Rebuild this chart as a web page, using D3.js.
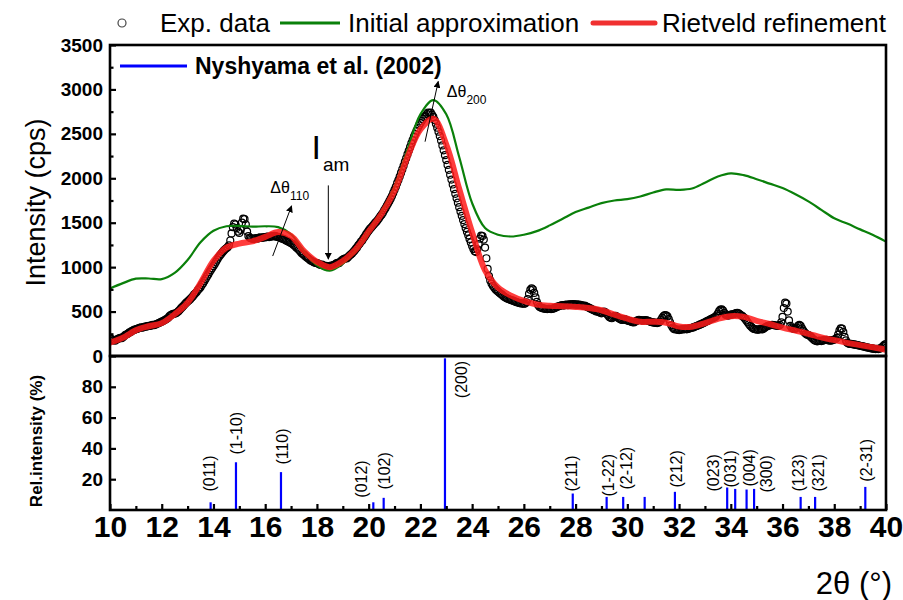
<!DOCTYPE html>
<html>
<head>
<meta charset="utf-8">
<script src="https://cdn.jsdelivr.net/npm/d3@7"></script>
<style>
  body { margin: 0; background: #fff; }
  svg { display: block; }
  text { font-family: "Liberation Sans", Arial, sans-serif; }
</style>
</head>
<body>
<svg id="chart" width="903" height="600"></svg>
<script>
// ---- measured pattern: intensity (cps) every 0.05° from 2θ = 10° ----
const expStart = 10;
const expStep = 0.05;
const expIntensity = [
  205,190,175,180,172,185,190,198,205,200,212,225,238,245,252,265,270,282,290,296,
  300,305,312,318,322,318,326,332,330,336,340,338,344,350,346,352,360,366,372,380,
  386,394,402,410,418,430,448,460,468,475,478,480,492,505,520,538,552,568,585,600,
  612,625,640,655,670,690,705,720,742,758,775,800,820,845,868,895,918,945,968,990,
  1012,1035,1060,1085,1110,1130,1150,1168,1185,1200,1212,1225,1245,1300,1380,1450,1490,1480,1440,1400,
  1385,1420,1500,1545,1540,1480,1400,1350,1330,1325,1320,1318,1322,1328,1320,1330,1335,1328,1332,1338,
  1335,1340,1345,1338,1342,1350,1345,1352,1348,1340,1342,1335,1328,1320,1318,1310,1300,1295,1285,1280,
  1268,1262,1250,1238,1222,1210,1195,1180,1162,1150,1138,1122,1110,1100,1088,1075,1068,1060,1052,1048,
  1045,1040,1030,1025,1028,1018,1012,1015,1008,1012,1010,1018,1015,1025,1030,1042,1048,1045,1060,1075,
  1085,1092,1100,1098,1112,1128,1140,1152,1170,1185,1205,1222,1245,1262,1285,1300,1325,1345,1368,1390,
  1410,1430,1445,1462,1480,1498,1512,1530,1550,1572,1590,1612,1640,1662,1690,1715,1742,1770,1800,1835,
  1870,1905,1945,1980,2020,2060,2100,2140,2185,2225,2268,2310,2350,2392,2430,2468,2500,2535,2565,2595,
  2620,2645,2668,2690,2700,2722,2740,2732,2738,2715,2690,2655,2615,2570,2525,2475,2425,2370,2315,2260,
  2205,2150,2095,2040,1985,1930,1878,1825,1775,1725,1675,1625,1578,1530,1485,1440,1398,1358,1318,1278,
  1238,1205,1180,1170,1200,1260,1320,1355,1350,1310,1220,1100,980,900,850,815,790,770,752,738,
  725,712,700,690,675,665,655,648,642,635,630,625,620,612,608,602,598,595,592,590,
  588,590,605,640,700,745,762,750,710,660,610,575,555,545,540,535,532,530,528,530,
  532,528,530,535,540,548,555,560,565,570,572,568,575,578,572,580,582,578,585,580,
  578,580,575,578,572,570,565,568,560,552,545,538,530,522,515,508,500,505,495,488,
  480,490,500,492,475,458,440,430,425,435,448,452,440,428,420,410,405,410,415,405,
  400,395,392,385,380,378,385,395,402,408,405,402,398,400,405,402,395,390,385,380,
  378,375,372,370,375,385,405,430,450,460,458,445,415,380,345,320,305,298,300,295,
  292,296,300,298,302,305,300,305,310,315,318,322,328,335,340,345,352,358,365,372,
  380,388,395,402,410,418,425,432,440,455,478,505,522,525,510,485,465,458,455,460,
  465,468,470,475,482,485,480,470,458,448,435,420,400,380,360,340,325,312,305,300,
  298,295,300,305,298,305,315,325,335,340,345,348,350,348,345,342,340,340,350,380,
  440,540,600,590,500,400,340,318,310,305,308,320,340,350,338,310,285,265,250,240,
  235,228,215,200,185,175,168,165,170,172,168,172,178,180,182,178,175,172,175,180,
  185,190,205,240,285,310,308,270,215,175,150,140,135,138,132,130,128,125,122,118,
  115,112,110,105,100,98,95,92,88,85,82,80,78,80,78,82,88,100,115,128,
  135
];

// ---- calculated profiles every 0.5° from 2θ = 10° ----
const calcStart = 10;
const calcStep = 0.5;
const initialApprox = [
  760, 820, 870, 872, 865, 935, 1080, 1280, 1410, 1460,
  1465, 1455, 1460, 1450, 1370, 1180, 1020, 960, 1040, 1190,
  1400, 1620, 1900, 2320, 2720, 2880, 2720, 2240, 1720, 1440,
  1365, 1345, 1365, 1405, 1470, 1545, 1620, 1670, 1720, 1750,
  1765, 1795, 1840, 1875, 1870, 1885, 1950, 2020, 2055, 2035,
  1990, 1940, 1890, 1820, 1740, 1645, 1550, 1490, 1425, 1362,
  1287
];
const rietveldFit = [
  150, 205, 290, 335, 370, 470, 600, 820, 1070, 1220,
  1265, 1290, 1340, 1395, 1350, 1180, 1060, 1000, 1070, 1200,
  1400, 1600, 1860, 2240, 2550, 2670, 2380, 1880, 1390, 965,
  770, 680, 620, 580, 565, 560, 552, 540, 515, 465,
  420, 386, 385, 375, 332, 330, 370, 418, 448, 440,
  395, 360, 320, 285, 250, 210, 178, 148, 122, 98,
  70
];

// ---- reference reflections (Nyshyama et al., 2002) ----
const refTheta = [13.89, 14.87, 16.61, 20.18, 20.58, 22.95, 27.89, 29.20, 29.84, 30.67,
                  31.84, 33.86, 34.17, 34.61, 34.90, 36.70, 37.26, 39.20];
const refRel = [5, 31, 24.6, 5, 7.9, 98.5, 10.7, 8.5, 8.5, 8.5,
                11.8, 14.6, 13.7, 13.3, 13.7, 8.5, 8.5, 15];

// Miller-index labels and where each one starts (2θ, rel. %)
const hklText = ["(011)", "(1-10)", "(110)", "(012)", "(102)", "(200)", "(211)", "(1-22)", "(2-12)",
                 "(212)", "(023)", "(031)", "(004)", "(300)", "(123)", "(321)", "(2-31)"];
const hklTheta = [13.84, 14.89, 16.65, 19.73, 20.63, 23.60, 27.85, 29.29, 29.95,
                  31.90, 33.32, 33.97, 34.74, 35.38, 36.60, 37.38, 39.25];
const hklRel = [12, 36, 29.5, 8, 13.3, 72.6, 12, 8.7, 13.3,
                14.6, 12, 14.6, 15.2, 11.3, 12, 12, 18.4];

// ---- axis ticks ----
const xMajor = d3.range(10, 41, 2);
const xMinor = d3.range(11, 40, 2);
const yTopMajor = [0, 500, 1000, 1500, 2000, 2500, 3000, 3500];
const yTopMinor = [250, 750, 1250, 1750, 2250, 2750, 3250];
const yBotMajor = [20, 40, 60, 80];

// ---- layout ----
const svg = d3.select("#chart");
const edgeL = 110, edgeR = 886, edgeT = 45, edgeM = 356, edgeB = 510;

const x = d3.scaleLinear().domain([10, 40]).range([edgeL, edgeR]);
const yTop = d3.scaleLinear().domain([0, 3500]).range([edgeM, edgeT]);
const yBot = d3.scaleLinear().domain([0, 100]).range([edgeB, edgeM]);

const expPoints = expIntensity.map((v, i) => [expStart + i * expStep, v]);
const initPoints = initialApprox.map((v, i) => [calcStart + i * calcStep, v]);
const fitPoints = rietveldFit.map((v, i) => [calcStart + i * calcStep, v]);

const defs = svg.append("defs");
defs.append("clipPath").attr("id", "topClip")
  .append("rect").attr("x", edgeL).attr("y", edgeT).attr("width", edgeR - edgeL).attr("height", edgeM - edgeT);
defs.append("marker")
  .attr("id", "arrow").attr("viewBox", "0 0 10 10")
  .attr("refX", 9).attr("refY", 5)
  .attr("markerWidth", 7).attr("markerHeight", 7)
  .attr("markerUnits", "userSpaceOnUse")
  .attr("orient", "auto")
  .append("path").attr("d", "M0,0 L10,5 L0,10 z").attr("fill", "#000");

// ---- upper panel: pattern ----
const plot = svg.append("g").attr("clip-path", "url(#topClip)");

plot.append("g").selectAll("circle")
  .data(expPoints).join("circle")
  .attr("cx", d => x(d[0]))
  .attr("cy", d => yTop(d[1]))
  .attr("r", 3.5)
  .attr("fill", "none")
  .attr("stroke", "#000")
  .attr("stroke-width", 1.2);

const lineTop = d3.line().x(d => x(d[0])).y(d => yTop(d[1])).curve(d3.curveCatmullRom.alpha(0.5));

plot.append("path").datum(initPoints)
  .attr("d", lineTop)
  .attr("fill", "none")
  .attr("stroke", "#0a800a")
  .attr("stroke-width", 2.2);

plot.append("path").datum(fitPoints)
  .attr("d", lineTop)
  .attr("fill", "none")
  .attr("stroke", "#ff1a1a")
  .attr("stroke-opacity", 0.85)
  .attr("stroke-width", 6)
  .attr("stroke-linejoin", "round");

// ---- lower panel: reference bars ----
svg.append("g").selectAll("line")
  .data(refTheta.map((t, i) => [t, refRel[i]])).join("line")
  .attr("x1", d => x(d[0])).attr("x2", d => x(d[0]))
  .attr("y1", yBot(0)).attr("y2", d => yBot(d[1]))
  .attr("stroke", "#0000ff")
  .attr("stroke-width", 2.2);

svg.append("g").selectAll("text")
  .data(hklText.map((s, i) => [s, hklTheta[i], hklRel[i]])).join("text")
  .attr("transform", d => `translate(${x(d[1])},${yBot(d[2])}) rotate(-90)`)
  .attr("dominant-baseline", "central")
  .attr("font-size", 16)
  .attr("fill", "#000")
  .text(d => d[0]);

// ---- axes ----
const tickFont = g => g.selectAll("text")
  .attr("font-family", "'Liberation Sans', Arial, sans-serif")
  .attr("font-weight", "bold").attr("fill", "#000");

const axTopMajor = svg.append("g").attr("transform", `translate(${edgeL},0)`)
  .call(d3.axisLeft(yTop).tickValues(yTopMajor).tickSize(-6).tickPadding(7).tickFormat(d3.format("d")));
axTopMajor.select(".domain").remove();
axTopMajor.selectAll("line").attr("stroke", "#000").attr("stroke-width", 2.2);
axTopMajor.call(tickFont);
axTopMajor.selectAll("text").attr("font-size", 19);

const axTopMinor = svg.append("g").attr("transform", `translate(${edgeL},0)`)
  .call(d3.axisLeft(yTop).tickValues(yTopMinor).tickSize(-3.5).tickFormat(""));
axTopMinor.select(".domain").remove();
axTopMinor.selectAll("line").attr("stroke", "#000").attr("stroke-width", 2.2);

const axBotY = svg.append("g").attr("transform", `translate(${edgeL},0)`)
  .call(d3.axisLeft(yBot).tickValues(yBotMajor).tickSize(-6).tickPadding(7));
axBotY.select(".domain").remove();
axBotY.selectAll("line").attr("stroke", "#000").attr("stroke-width", 2.2);
axBotY.call(tickFont);
axBotY.selectAll("text").attr("font-size", 19);

const axX = svg.append("g").attr("transform", `translate(0,${edgeB})`)
  .call(d3.axisBottom(x).tickValues(xMajor).tickSize(-6).tickPadding(6).tickFormat(d3.format("d")));
axX.select(".domain").remove();
axX.selectAll("line").attr("stroke", "#000").attr("stroke-width", 2.2);
axX.call(tickFont);
axX.selectAll("text").attr("font-size", 30);

const axXMinor = svg.append("g").attr("transform", `translate(0,${edgeB})`)
  .call(d3.axisBottom(x).tickValues(xMinor).tickSize(-4).tickFormat(""));
axXMinor.select(".domain").remove();
axXMinor.selectAll("line").attr("stroke", "#000").attr("stroke-width", 2.2);

// ---- frames ----
const frame = svg.append("g").attr("fill", "none").attr("stroke", "#000").attr("stroke-width", 2.6);
frame.append("rect").attr("x", edgeL).attr("y", edgeT).attr("width", edgeR - edgeL).attr("height", edgeM - edgeT);
frame.append("rect").attr("x", edgeL).attr("y", edgeM).attr("width", edgeR - edgeL).attr("height", edgeB - edgeM);

// ---- axis titles ----
svg.append("text")
  .attr("transform", `translate(${edgeL - 74},${(edgeT + edgeM) / 2 + 2}) rotate(-90)`)
  .attr("text-anchor", "middle").attr("dominant-baseline", "central")
  .attr("font-size", 27).attr("fill", "#000")
  .text("Intensity (cps)");

svg.append("text")
  .attr("transform", `translate(${edgeL - 74},${(edgeM + edgeB) / 2 + 8}) rotate(-90)`)
  .attr("text-anchor", "middle").attr("dominant-baseline", "central")
  .attr("font-size", 17).attr("font-weight", "bold").attr("fill", "#000")
  .text("Rel.intensity (%)");

svg.append("text")
  .attr("x", edgeR + 6).attr("y", 594)
  .attr("text-anchor", "end")
  .attr("font-size", 31).attr("fill", "#000")
  .text("2θ (°)");

// ---- legend ----
const legend = svg.append("g").attr("font-size", 26).attr("fill", "#000");
legend.append("circle").attr("cx", 122).attr("cy", 23).attr("r", 4)
  .attr("fill", "none").attr("stroke", "#444").attr("stroke-width", 1.2);
legend.append("text").attr("x", 160).attr("y", 32).text("Exp. data");
legend.append("line").attr("x1", 280).attr("x2", 340).attr("y1", 23).attr("y2", 23)
  .attr("stroke", "#0a800a").attr("stroke-width", 3);
legend.append("text").attr("x", 348).attr("y", 32).text("Initial approximation");
legend.append("line").attr("x1", 593).attr("x2", 655).attr("y1", 23).attr("y2", 23)
  .attr("stroke", "#f03030").attr("stroke-width", 5).attr("stroke-linecap", "round");
legend.append("text").attr("x", 662).attr("y", 32).text("Rietveld refinement");

legend.append("line").attr("x1", 120).attr("x2", 187).attr("y1", 66).attr("y2", 66)
  .attr("stroke", "#0000ff").attr("stroke-width", 3);
legend.append("text").attr("x", 195).attr("y", 74)
  .attr("font-size", 23).attr("font-weight", "bold")
  .text("Nyshyama et al. (2002)");

// ---- annotations (anchored in data space) ----
const ann = svg.append("g").attr("fill", "#000");

function arrow(t1, v1, t2, v2) {
  ann.append("line")
    .attr("x1", x(t1)).attr("y1", yTop(v1))
    .attr("x2", x(t2)).attr("y2", yTop(v2))
    .attr("stroke", "#000").attr("stroke-width", 1)
    .attr("marker-end", "url(#arrow)");
}

// amorphous halo minimum
arrow(18.44, 1920, 18.44, 1090);
const iam = ann.append("text").attr("x", x(17.79)).attr("y", yTop(2217));
iam.append("tspan").attr("font-size", 34).text("I");
iam.append("tspan").attr("font-size", 19).attr("dy", 12).attr("dx", 2).text("am");

// peak shifts
arrow(16.29, 1125, 17.02, 1690);
const d110 = ann.append("text").attr("x", x(16.2)).attr("y", yTop(1830));
d110.append("tspan").attr("font-size", 16).text("Δθ");
d110.append("tspan").attr("font-size", 12).attr("dy", 7).text("110");

arrow(22.18, 2412, 22.69, 3090);
const d200 = ann.append("text").attr("x", x(23.02)).attr("y", yTop(2920));
d200.append("tspan").attr("font-size", 16).text("Δθ");
d200.append("tspan").attr("font-size", 12).attr("dy", 7).text("200");
</script>
</body>
</html>
